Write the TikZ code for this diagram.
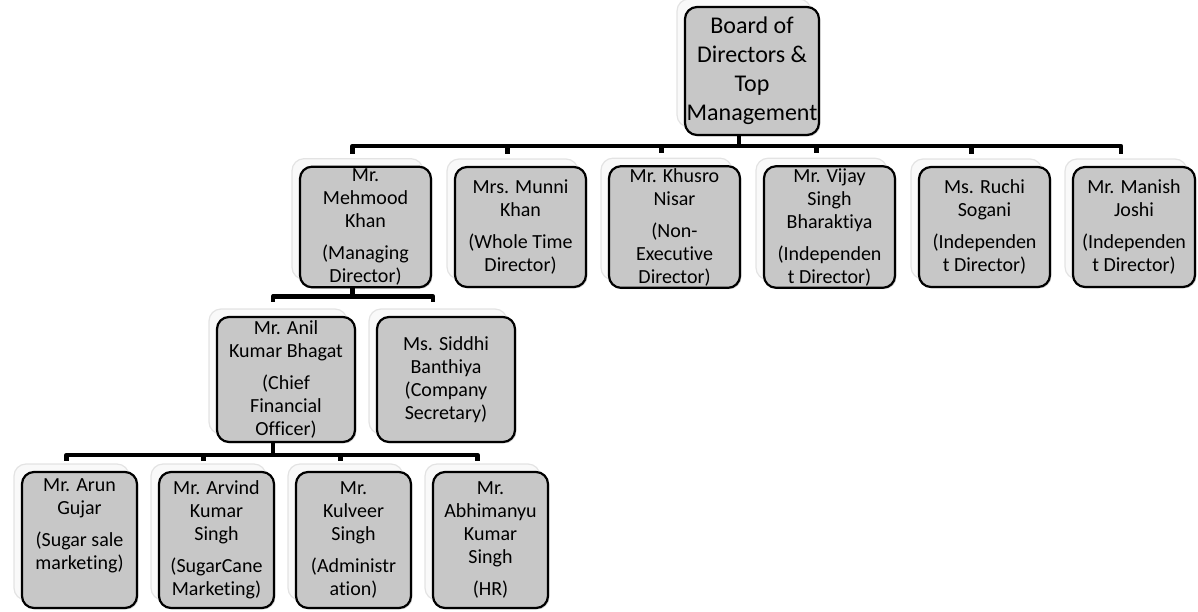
\documentclass[tikz,border=0pt]{standalone}
\usepackage{fontspec}
\setmainfont{Carlito}[Ligatures={NoCommon,NoContextual}]
\usetikzlibrary{shadows}

\tikzset{
  member/.style={draw=black, line width=1.1pt, rounded corners=6pt, fill=black!22,
    align=center, inner xsep=0pt, inner ysep=1pt,
    font=\fontsize{10}{11.5}\selectfont,
    general shadow={shadow xshift=-4pt, shadow yshift=4pt, fill=gray!5, draw=gray!22, line width=.6pt},
    drop shadow={shadow xshift=.7pt, shadow yshift=-.7pt, opacity=.35},
    minimum width=#1},
  member/.default=65.5pt,
  board/.style={member=67pt, minimum height=64pt, font=\fontsize{12}{14.5}\selectfont},
  director/.style={member=#1, minimum height=60pt},
  director/.default=65.5pt,
  officer/.style={member=69pt, minimum height=62.5pt},
  staff/.style={member=57.5pt, minimum height=68pt},
  link/.style={line width=2.3pt, line join=round}
}
\newcommand{\gap}{\\[4.5pt]}

\begin{document}
\begin{tikzpicture}[x=0.5pt, y=-0.5pt]
\useasboundingbox (0,0) rectangle (1198,611);

% top
\node[board] (board) at (752,71) {Board of\\Directors \&\\Top\\Management};

% directors
\node[director] (mehmood) at (365.5,227) {Mr.\\Mehmood\\Khan\gap(Managing\\Director)};
\node[director] (munni)   at (520.5,227) {Mrs. Munni\\Khan\gap(Whole Time\\Director)};
\node[director] (khusro)  at (674.5,227) {Mr. Khusro\\Nisar\gap(Non-\\Executive\\Director)};
\node[director] (vijay)   at (829.5,227) {Mr. Vijay\\Singh\\Bharaktiya\gap(Independen\\t Director)};
\node[director] (ruchi)   at (984.5,227) {Ms. Ruchi\\Sogani\gap(Independen\\t Director)};
\node[director=61pt] (manish) at (1134,227) {Mr. Manish\\Joshi\gap(Independen\\t Director)};

% officers
\node[officer] (anil)   at (286,379.5) {Mr. Anil\\Kumar Bhagat\gap(Chief\\Financial\\Officer)};
\node[officer] (siddhi) at (446,379.5) {Ms. Siddhi\\Banthiya\\(Company\\Secretary)};

% staff
\node[staff] (arun)      at (79.5,540)  {Mr. Arun\\Gujar\gap(Sugar sale\\marketing)\\[4pt]\mbox{}};
\node[staff] (arvind)    at (216.5,540) {Mr. Arvind\\Kumar\\Singh\gap(SugarCane\\Marketing)};
\node[staff] (kulveer)   at (353.5,540) {Mr.\\Kulveer\\Singh\gap(Administr\\ation)};
\node[staff] (abhimanyu) at (490.5,540) {Mr.\\Abhimanyu\\Kumar\\Singh\gap(HR)};

% links
\foreach \c in {mehmood,munni,khusro,vijay,ruchi,manish}
  \draw[link] ([xshift=-6.5pt]board.south) -- ++(0,-5pt) -| ([xshift=-6.5pt,yshift=6pt]\c.north);
\foreach \c in {anil,siddhi}
  \draw[link] ([xshift=-6.5pt]mehmood.south) -- ++(0,-4pt) -| ([xshift=-6.5pt,yshift=7pt]\c.north);
\foreach \c in {arun,arvind,kulveer,abhimanyu}
  \draw[link] ([xshift=-6.5pt]anil.south) -- ++(0,-6pt) -| ([xshift=-6.5pt,yshift=5pt]\c.north);
\end{tikzpicture}
\end{document}
